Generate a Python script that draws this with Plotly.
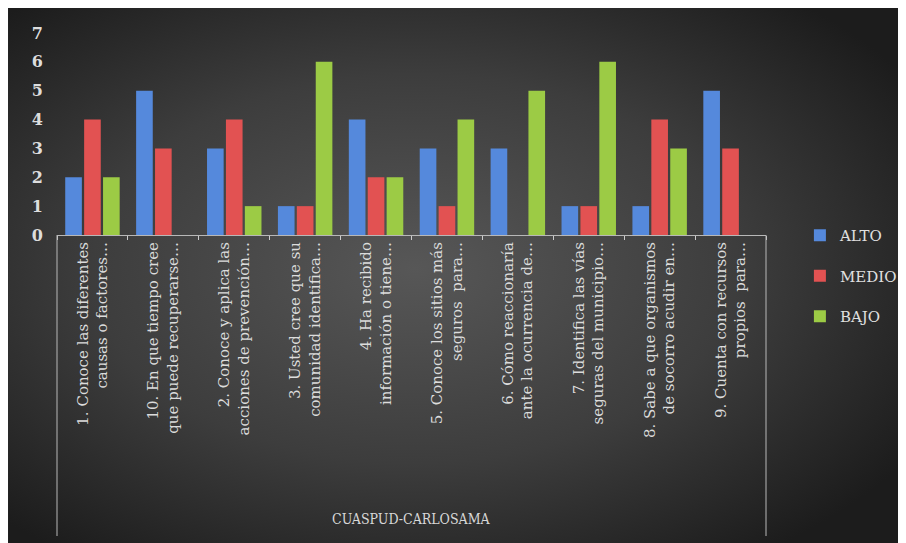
import base64
import plotly.graph_objects as go

# Data
preguntas = [
    "1. Conoce las diferentes<br>causas o factores…",
    "10. En que tiempo cree<br>que puede recuperarse…",
    "2. Conoce y aplica las<br>acciones de prevención…",
    "3. Usted cree que su<br>comunidad identifica…",
    "4. Ha recibido<br>información o tiene…",
    "5. Conoce los sitios más<br>seguros  para…",
    "6. Cómo reaccionaría<br>ante la ocurrencia de…",
    "7. Identifica las vías<br>seguras del municipio…",
    "8. Sabe a que organismos<br>de socorro acudir en…",
    "9. Cuenta con recursos<br>propios  para…",
]
alto = [2, 5, 3, 1, 4, 3, 3, 1, 1, 5]
medio = [4, 3, 4, 1, 2, 1, 0, 1, 4, 3]
bajo = [2, 0, 1, 6, 2, 4, 5, 6, 3, 0]
y_ticks = [0, 1, 2, 3, 4, 5, 6, 7]

series = [
    ("ALTO", alto, "#5589dc"),
    ("MEDIO", medio, "#e25252"),
    ("BAJO", bajo, "#9ccb45"),
]

fig = go.Figure()
for name, vals, color in series:
    fig.add_trace(go.Bar(
        x=preguntas, y=vals, name=name, legendgroup=name,
        marker=dict(color=color, line=dict(width=0)),
    ))

# radial dark background (Excel style)
svg = """<svg xmlns='http://www.w3.org/2000/svg' width='906' height='543'>
<defs><radialGradient id='g' cx='45%' cy='48%' r='65%'>
<stop offset='0%' stop-color='#575757'/>
<stop offset='55%' stop-color='#3d3d3d'/>
<stop offset='100%' stop-color='#1c1c1c'/>
</radialGradient></defs>
<rect width='906' height='543' fill='url(#g)'/></svg>"""
bg_src = "data:image/svg+xml;base64," + base64.b64encode(svg.encode()).decode()

# page body adds an 8px offset; plot area in figure pixels 49..760 x 25..227
L, R, T, B = 49, 146, 25, 316
W, H = 906 - L - R, 543 - T - B
px = lambda p: (p - L) / W
py = lambda p: (543 - B - p) / H

fig.add_layout_image(dict(
    source=bg_src, xref="paper", yref="paper",
    x=px(0), y=py(0), sizex=px(906) - px(0), sizey=py(0) - py(543),
    xanchor="left", yanchor="top", sizing="stretch", layer="below",
))

# box around the category labels
for xd in (0, 1):
    fig.add_shape(type="line", xref="x domain", yref="paper",
                  x0=xd, x1=xd, y0=0, y1=py(528),
                  line=dict(color="#b8b8b8", width=1))

fig.add_annotation(
    text="CUASPUD-CARLOSAMA", xref="paper", yref="paper",
    x=px(404), y=py(511), xanchor="center", yanchor="middle", showarrow=False,
    font=dict(family="DejaVu Serif Condensed", size=14, color="#d8d8d8"),
)

fig.update_layout(
    width=906, height=543,
    margin=dict(l=L, r=R, t=T, b=B),
    paper_bgcolor="#2a2a2a", plot_bgcolor="rgba(0,0,0,0)",
    barmode="group", bargap=0.2, bargroupgap=0.12,
    font=dict(family="DejaVu Serif", color="#d8d8d8"),
    showlegend=True,
    legend=dict(
        x=px(794), y=py(211), xanchor="left", yanchor="top",
        font=dict(family="DejaVu Serif", size=15, color="#e0e0e0"),
        tracegroupgap=18, bgcolor="rgba(0,0,0,0)",
    ),
    xaxis=dict(
        tickangle=-90, tickfont=dict(family="DejaVu Serif", size=15, color="#dcdcdc"),
        showline=True, linecolor="#b8b8b8", linewidth=1,
        ticks="outside", tickson="boundaries", ticklen=4, tickcolor="#cccccc",
        showgrid=False, zeroline=False,
    ),
    yaxis=dict(
        range=[0, 7], tickvals=y_ticks, showgrid=False, zeroline=False,
        showline=False, ticks="", ticklabelstandoff=13,
        tickfont=dict(family="DejaVu Serif", size=16, color="#dddddd", weight="bold"),
    ),
)

fig.write_html("out.html")
